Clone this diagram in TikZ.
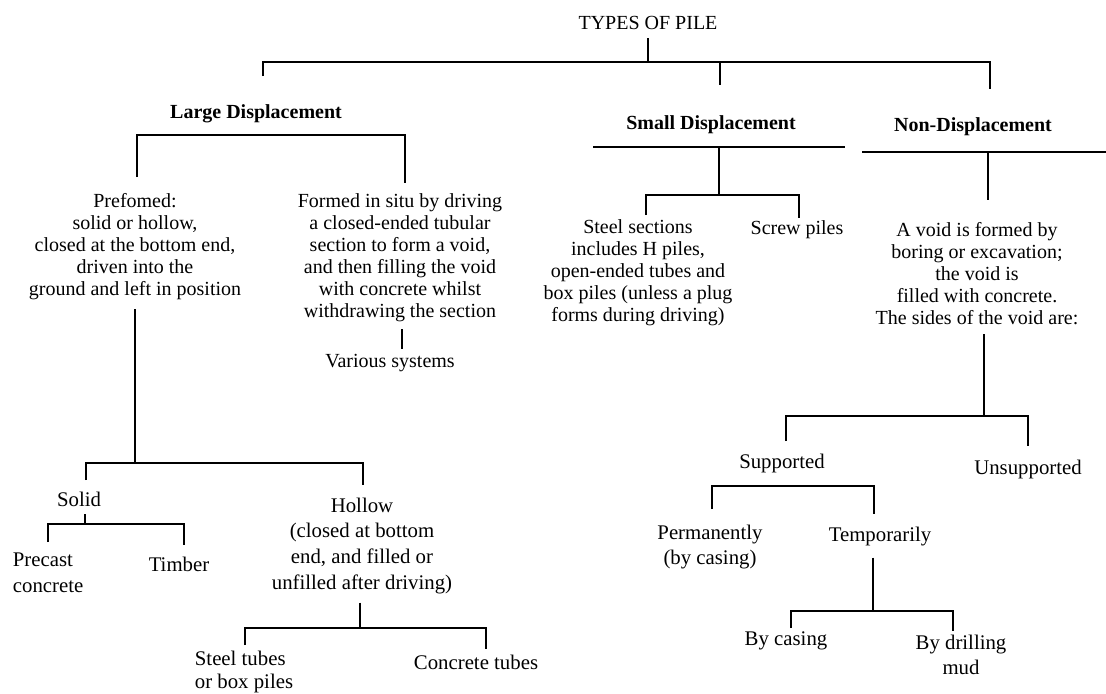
\documentclass[tikz,border=0pt]{standalone}
\usepackage{fontspec}
\setmainfont{Liberation Serif}

\begin{document}
\begin{tikzpicture}[x=0.5pt, y=-0.5pt, line width=0.9pt,
    uptext/.style={inner sep=0, align=center, font=\fontsize{10}{11}\selectfont},
    lowtext/.style={inner sep=0, align=center, font=\fontsize{10.4}{12.8}\selectfont},
    headtext/.style={inner sep=0, font=\fontsize{10}{11}\selectfont\bfseries}]
    \useasboundingbox (0, 0) rectangle (1106, 693);

    \node [uptext, anchor=north] (title) at (648, 15) {TYPES OF PILE};
    \node [headtext, anchor=north] (ld) at (256, 104) {Large Displacement};
    \node [headtext, anchor=north] (sd) at (711, 115) {Small Displacement};
    \node [headtext, anchor=north] (nd) at (973, 117) {Non-Displacement};

    \node [uptext, anchor=north] (pref) at (135, 193) {Prefomed:\\ solid or hollow,\\ closed at the bottom end,\\ driven into the\\ ground and left in position};
    \node [uptext, anchor=north] (form) at (400, 193) {Formed in situ by driving\\ a closed-ended tubular\\ section to form a void,\\ and then filling the void\\ with concrete whilst\\ withdrawing the section};
    \node [uptext, anchor=north] (various) at (390, 353) {Various systems};
    \node [uptext, anchor=north] (steel) at (638, 219) {Steel sections\\ includes H piles,\\ open-ended tubes and\\ box piles (unless a plug\\ forms during driving)};
    \node [uptext, anchor=north] (screw) at (797, 220) {Screw piles};
    \node [uptext, anchor=north] (void) at (977, 222) {A void is formed by\\ boring or excavation;\\ the void is\\ filled with concrete.\\ The sides of the void are:};

    \node [lowtext, anchor=north] (solid) at (79, 491) {Solid};
    \node [lowtext, align=left, anchor=north west] (precast) at (12, 552) {Precast\\ concrete};
    \node [lowtext, anchor=north] (timber) at (179, 556) {Timber};
    \node [lowtext, anchor=north] (hollow) at (362, 497) {Hollow\\ (closed at bottom\\ end, and filled or\\ unfilled after driving)};
    \node [lowtext, align=left, anchor=north west, font=\fontsize{10.4}{11.4}\selectfont] (stube) at (194, 650) {Steel tubes\\ or box piles};
    \node [lowtext, anchor=north] (ctube) at (476, 654) {Concrete tubes};

    \node [lowtext, anchor=north] (sup) at (782, 453) {Supported};
    \node [lowtext, anchor=north] (unsup) at (1028, 459) {Unsupported};
    \node [lowtext, anchor=north] (perm) at (710, 524) {Permanently\\ (by casing)};
    \node [lowtext, anchor=north] (temp) at (880, 526) {Temporarily};
    \node [lowtext, anchor=north] (bycas) at (786, 631) {By casing};
    \node [lowtext, anchor=north] (drill) at (961, 634) {By drilling\\ mud};

    % top level
    \coordinate (title-j) at (648, 62);
    \coordinate (ld-in) at (263, 76);
    \coordinate (sd-in) at (720, 85);
    \coordinate (nd-in) at (990, 89);
    \draw (title.south) ++(0, 8) -- (title-j);
    \draw (ld-in) |- (title-j) -| (nd-in);
    \draw (title-j -| sd-in) -- (sd-in);

    % large displacement
    \coordinate (ld-j) at (405, 135);
    \coordinate (pref-in) at (137, 177);
    \coordinate (form-in) at (405, 183);
    \coordinate (various-in) at (402, 349);
    \draw (pref-in) |- (ld-j) -- (form-in);
    \draw (form.south) ++(2, 6) -- (various-in);

    \coordinate (pref-j) at (135, 463);
    \coordinate (solid-in) at (86, 480);
    \coordinate (hollow-in) at (363, 485);
    \draw (pref.south) ++(0, 8) -- (pref-j);
    \draw (solid-in) |- (pref-j) -| (hollow-in);

    \coordinate (solid-j) at (85, 524);
    \coordinate (precast-in) at (48, 542);
    \coordinate (timber-in) at (184, 545);
    \draw (solid.south) ++(6, 7) -- (solid-j);
    \draw (precast-in) |- (solid-j) -| (timber-in);

    \coordinate (hollow-j) at (360, 628);
    \coordinate (stube-in) at (245, 645);
    \coordinate (ctube-in) at (486, 649);
    \draw (hollow.south) ++(-2, 8) -- (hollow-j);
    \draw (stube-in) |- (hollow-j) -| (ctube-in);

    % small displacement
    \coordinate (sd-l) at (593, 147);
    \coordinate (sd-r) at (845, 147);
    \coordinate (sd-j) at (719, 195);
    \coordinate (steel-in) at (646, 215);
    \coordinate (screw-in) at (799, 218);
    \draw (sd-l) -- (sd-r);
    \draw (sd-j |- sd-l) -- (sd-j);
    \draw (steel-in) |- (sd-j) -| (screw-in);

    % non-displacement
    \coordinate (nd-l) at (862, 152);
    \coordinate (nd-r) at (1106, 152);
    \coordinate (void-in) at (988, 200);
    \draw (nd-l) -- (nd-r);
    \draw (void-in |- nd-l) -- (void-in);

    \coordinate (sup-j) at (984, 416);
    \coordinate (sup-in) at (786, 441);
    \coordinate (unsup-in) at (1028, 446);
    \draw (void.south) ++(7, 8) -- (sup-j);
    \draw (sup-in) |- (sup-j) -| (unsup-in);

    \coordinate (sup-k) at (874, 486);
    \coordinate (perm-in) at (712, 509);
    \coordinate (temp-in) at (874, 514);
    \draw (perm-in) |- (sup-k) -- (temp-in);

    \coordinate (temp-j) at (873, 611);
    \coordinate (bycas-in) at (791, 628);
    \coordinate (drill-in) at (953, 631);
    \draw (temp.south) ++(-7, 11) -- (temp-j);
    \draw (bycas-in) |- (temp-j) -| (drill-in);
\end{tikzpicture}
\end{document}
